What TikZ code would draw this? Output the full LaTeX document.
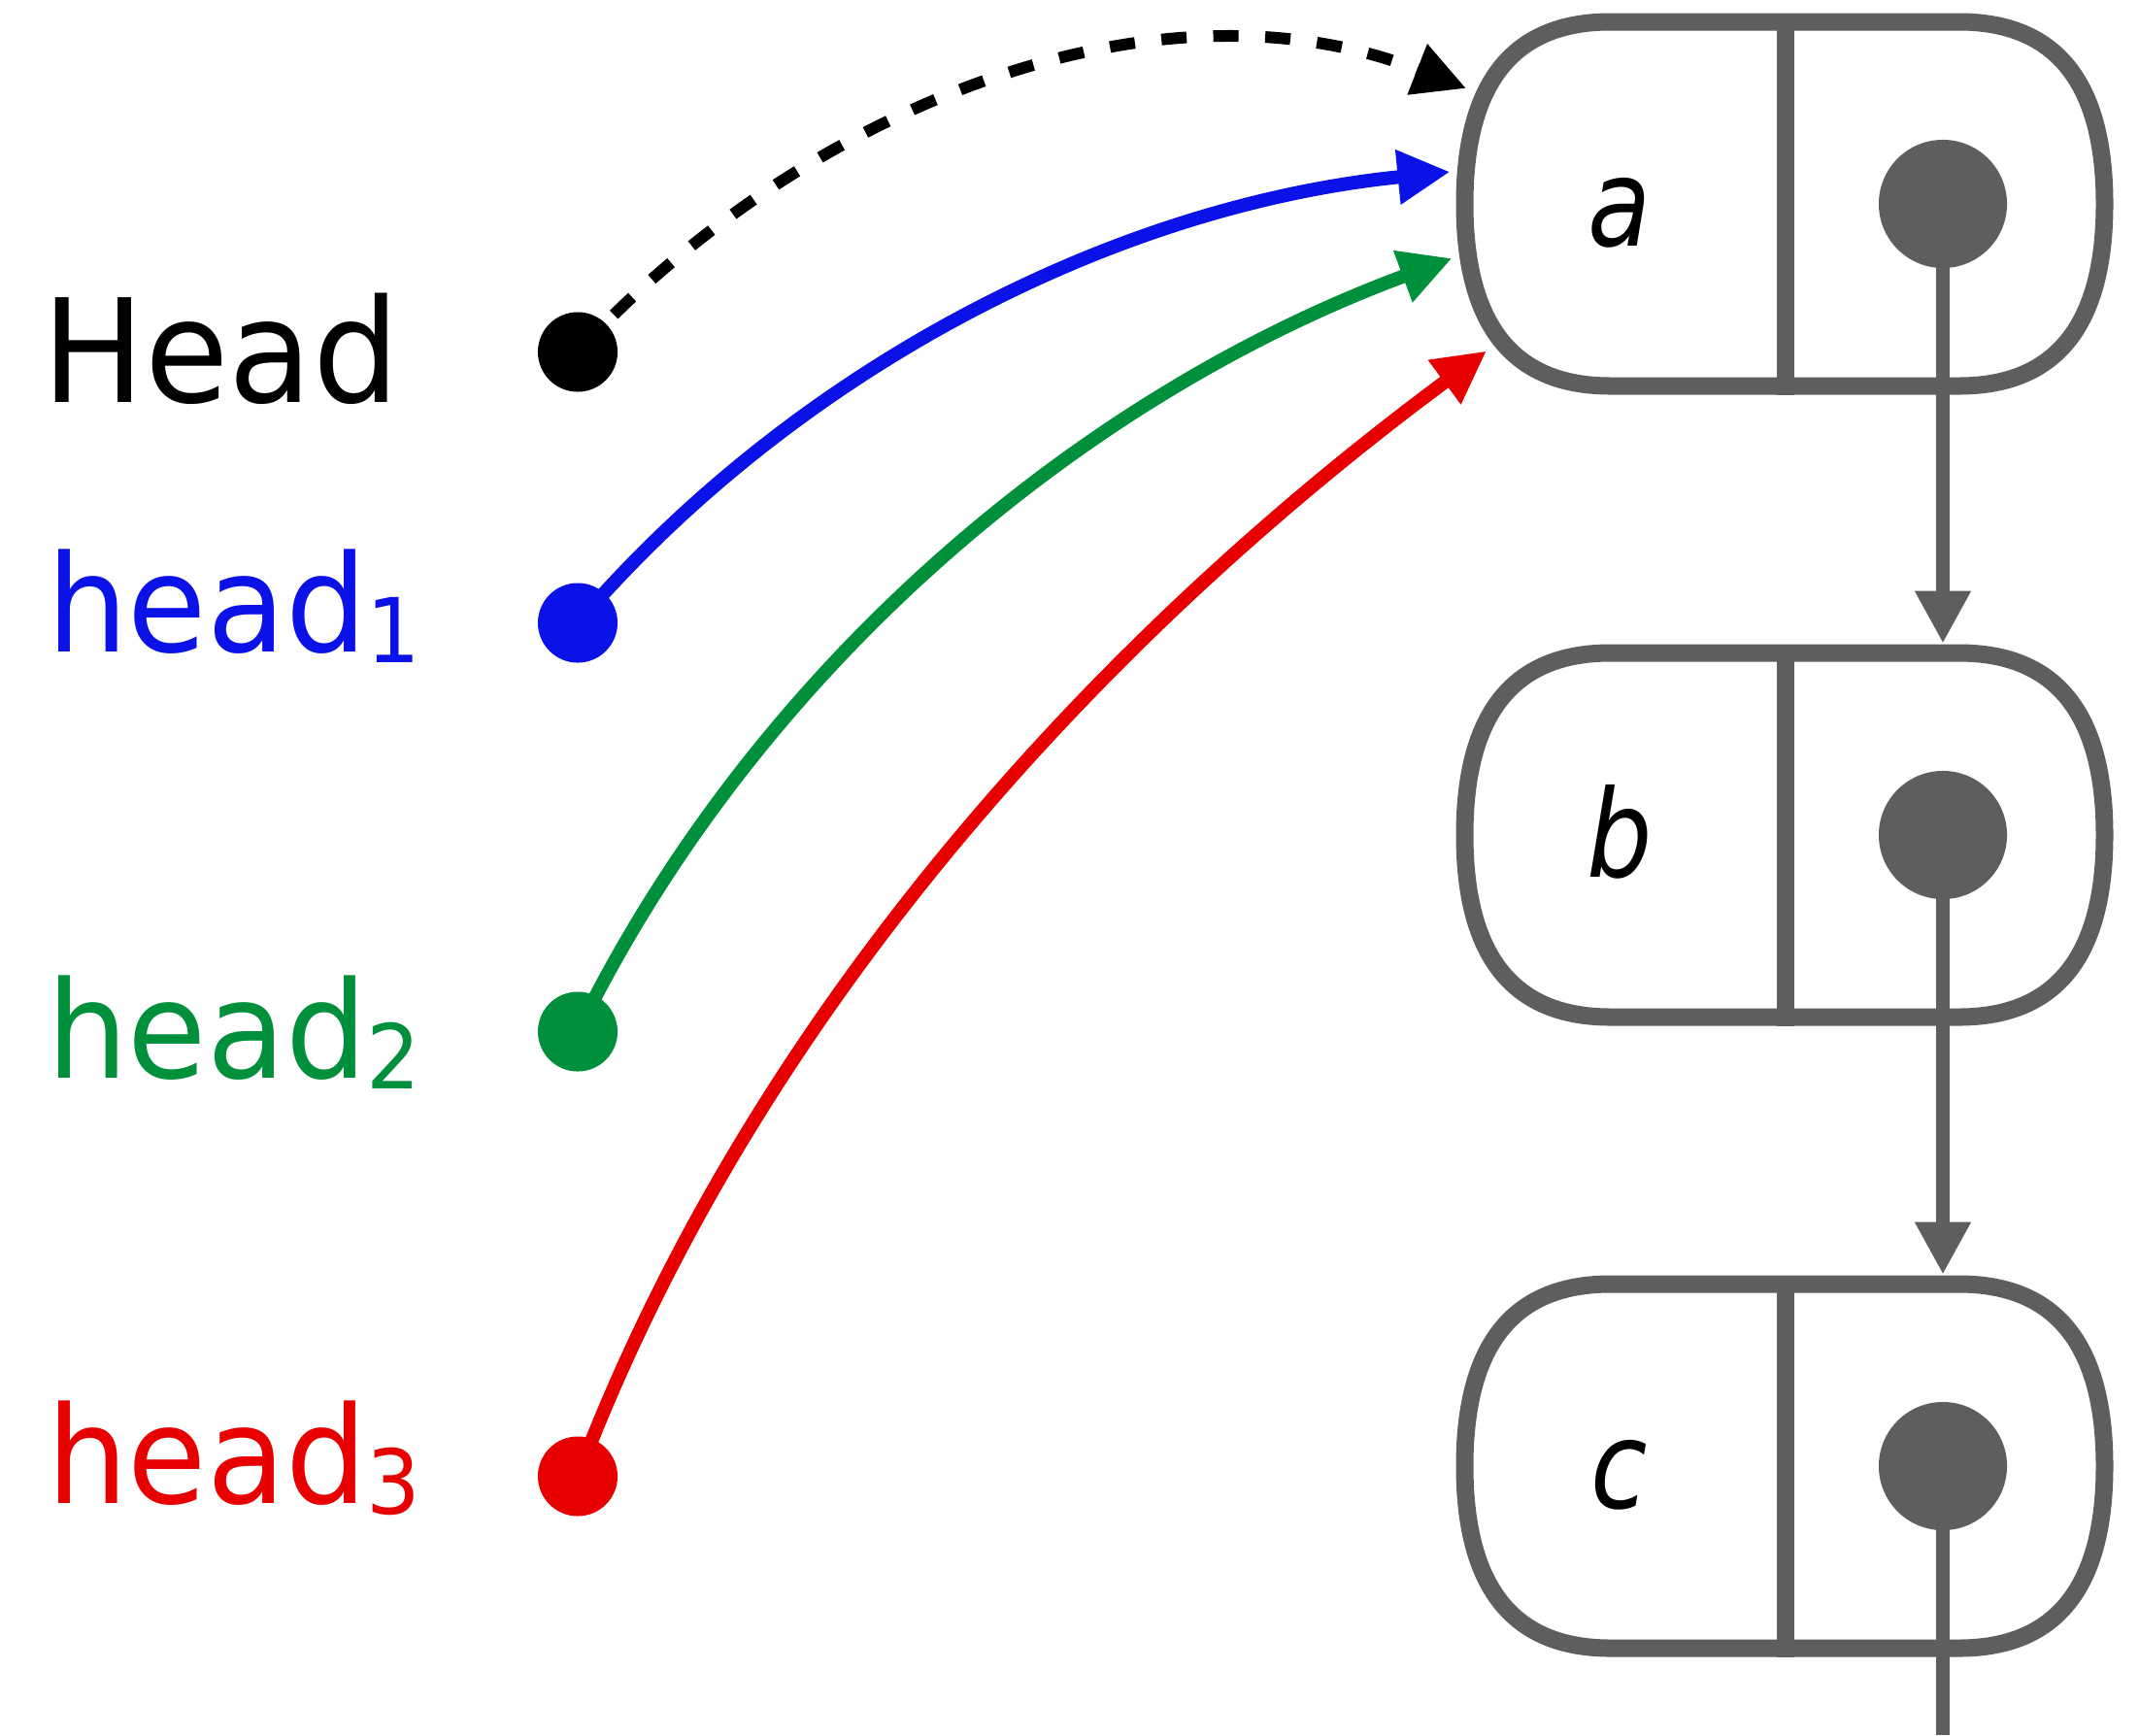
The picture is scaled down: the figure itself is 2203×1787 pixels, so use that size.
\documentclass[tikz,border=0pt]{standalone}
\usepackage{fontspec}
\usetikzlibrary{arrows.meta}
\newfontfamily\dvsans[FakeStretch=0.95]{DejaVu Sans}
\newfontfamily\dvlab[FakeStretch=0.85]{DejaVu Sans}
\definecolor{nodegray}{HTML}{5E5E5E}
\definecolor{hblue}{HTML}{0A12E8}
\definecolor{hgreen}{HTML}{008F3A}
\definecolor{hred}{HTML}{E80000}
\pgfdeclarelayer{bg}
\pgfsetlayers{bg,main}
\tikzset{
  boxline/.style={draw=nodegray, line width=0.18cm},
  lab/.style={anchor=base, inner sep=0pt, font=\dvlab\itshape\fontsize{35.6pt}{36pt}\selectfont},
  ptrdot/.style={circle, fill=nodegray, inner sep=0pt, minimum size=1.32cm},
  ptrline/.style={draw=nodegray, line width=0.14cm},
  ptrarrow/.style={ptrline, -{Triangle[length=0.54cm, width=0.54cm]}},
  hdot/.style={circle, inner sep=0pt, minimum size=0.82cm},
  hlink/.style={line width=0.14cm, -{Triangle[length=0.54cm, width=0.53cm]}},
  hname/.style={anchor=base west, inner sep=0pt, font=\dvsans\fontsize{39.55pt}{40pt}\selectfont},
}
\newcommand\subidx[1]{\raisebox{-0.11cm}{\fontsize{26.2pt}{27pt}\selectfont #1}}
\newcommand\drawlistbox[4]{%
  \node[inner sep=0pt, minimum width=6.77cm, minimum height=3.93cm] (#1) at (1838,#2) {};
  \draw[boxline] (1508.5,#2) .. controls (1508.5,#2-142.5) and (1573.5,#2-187.5) .. (1658.5,#2-187.5)
     -- (2017.5,#2-187.5) .. controls (2102.5,#2-187.5) and (2167.5,#2-142.5) .. (2167.5,#2)
     .. controls (2167.5,#2+142.5) and (2102.5,#2+187.5) .. (2017.5,#2+187.5)
     -- (1658.5,#2+187.5) .. controls (1573.5,#2+187.5) and (1508.5,#2+142.5) .. cycle;
  \draw[boxline, line cap=rect] (1838.5,#2-187.5) -- (1838.5,#2+187.5);
  \node[lab] (#1lab) at (1668,#2+43.3) {#3};
  \node[ptrdot] (#4) at (2001,#2) {};
}
\begin{document}
\begin{tikzpicture}[x=0.01cm, y=-0.01cm]
\useasboundingbox (0,0) rectangle (2203,1787);
\begin{pgfonlayer}{bg}
  \fill[white] (0,0) rectangle (2203,1787);
\end{pgfonlayer}

% list nodes
\drawlistbox{a}{210}{a}{pa}
\drawlistbox{b}{860}{b}{pb}
\drawlistbox{c}{1510}{c}{pc}

\draw[ptrarrow] (pa.center) -- (pa.center |- b.north);
\draw[ptrarrow] (pb.center) -- (pb.center |- c.north);
\coordinate (tail) at (2001,1787);
\draw[ptrline] (pc.center) -- (tail);

% names
\node[hname, font=\dvsans\fontsize{42.1pt}{43pt}\selectfont] (tH) at (42.9,414.3) {Head};
\node[hname, text=hblue] (t1) at (47.4,671.7) {head\subidx{1}};
\node[hname, text=hgreen] (t2) at (47.4,1110) {head\subidx{2}};
\node[hname, text=hred] (t3) at (47.4,1548.8) {head\subidx{3}};

% dots
\node[hdot, fill=black] (dH) at (595,362.5) {};
\node[hdot, fill=hblue] (d1) at (595,641.5) {};
\node[hdot, fill=hgreen] (d2) at (595,1062.5) {};
\node[hdot, fill=hred] (d3) at (595,1520.5) {};

% arrow tips
\coordinate (tipH) at (1510,91);
\coordinate (tipB) at (1493.5,177);
\coordinate (tipG) at (1495.5,266);
\coordinate (tipR) at (1531,361.5);

\begin{pgfonlayer}{bg}
  \draw[hlink, black, line width=0.12cm, dash pattern=on 0.26cm off 0.275cm]
    (dH.center) .. controls (819.6,118.4) and (1183.6,-36.5) .. (tipH);
  \draw[hlink, hblue] (d1.center) .. controls (821.2,378.1) and (1149.9,211.4) .. (tipB);
  \draw[hlink, hgreen] (d2.center) .. controls (776.6,692) and (1109.5,408.9) .. (tipG);
  \draw[hlink, hred] (d3.center) .. controls (774.9,1047) and (1128.1,659.9) .. (tipR);
\end{pgfonlayer}
\end{tikzpicture}
\end{document}
